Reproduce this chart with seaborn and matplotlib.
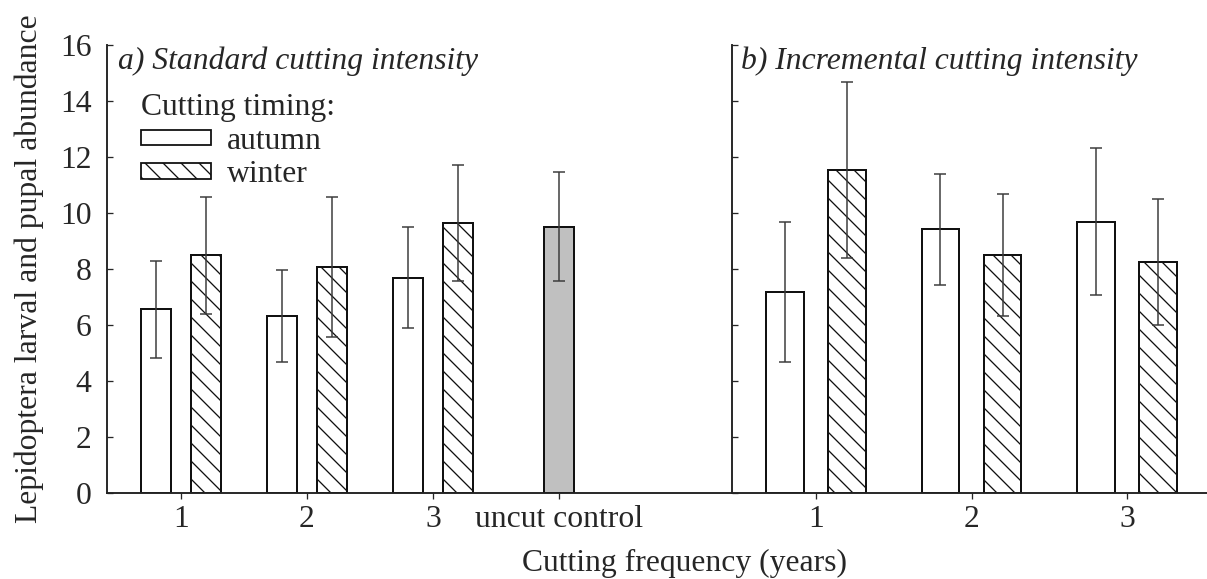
import pandas as pd
import matplotlib.pyplot as plt
import seaborn as sns
from matplotlib.patches import Patch
from matplotlib.transforms import blended_transform_factory

# Datos
cats_a = ["1", "2", "3", "uncut control"]
cats_b = ["1", "2", "3"]
freqs = ["1", "2", "3"]
timing = ["autumn", "winter"]

autumn_a = [6.57, 6.33, 7.70]
autumn_a_err = [1.73, 1.63, 1.80]
winter_a = [8.49, 8.08, 9.65]
winter_a_err = [2.09, 2.50, 2.07]
control = [9.52]
control_err = [1.94]

autumn_b = [7.20, 9.42, 9.69]
autumn_b_err = [2.50, 1.98, 2.63]
winter_b = [11.55, 8.51, 8.25]
winter_b_err = [3.14, 2.17, 2.24]

DPI = 108


def pt(px):
    # pixeles -> puntos
    return px * 72 / DPI


sns.set_style("ticks")
plt.rcParams["font.family"] = ["Liberation Serif", "DejaVu Serif"]
plt.rcParams["hatch.linewidth"] = pt(1.3)
plt.rcParams["axes.linewidth"] = pt(1.9)

FS = pt(31.6)
EDGE = "#111111"
ERR = dict(fmt="none", ecolor="#3a3a3a", elinewidth=pt(1.5),
           capsize=pt(6.5), capthick=pt(1.5), zorder=5)


def tabla(autumn, winter):
    return pd.DataFrame({
        "freq": freqs * 2,
        "timing": ["autumn"] * 3 + ["winter"] * 3,
        "abund": autumn + winter,
    })


def panel(ax, df, order, errs):
    sns.barplot(data=df, x="freq", y="abund", hue="timing", order=order,
                hue_order=timing, width=0.8, gap=0.4, errorbar=None,
                palette={"autumn": "white", "winter": "white"},
                edgecolor=EDGE, linewidth=pt(2), legend=False, ax=ax)
    for cont, t in zip(ax.containers, timing):
        xs, ys = [], []
        for p in cont:
            if t == "winter":
                p.set_hatch("\\\\")
            xs.append(p.get_x() + p.get_width() / 2)
            ys.append(p.get_height())
        ax.errorbar(xs, ys, yerr=errs[t], **ERR)


fig = plt.figure(figsize=(1207 / DPI, 579 / DPI), dpi=DPI)
ax_a = fig.add_axes([107 / 1207, 1 - 493.3 / 579, 625 / 1207, 448.3 / 579])
ax_b = fig.add_axes([732 / 1207, 1 - 493.3 / 579, 475 / 1207, 448.3 / 579])

# Panel a
panel(ax_a, tabla(autumn_a, winter_a), cats_a,
      {"autumn": autumn_a_err, "winter": winter_a_err})
df_c = pd.DataFrame({"freq": ["uncut control"], "abund": control})
sns.barplot(data=df_c, x="freq", y="abund", order=cats_a, width=0.24,
            color="#c0c0c0", saturation=1, edgecolor=EDGE, linewidth=pt(2),
            errorbar=None, ax=ax_a)
pc = ax_a.containers[-1][0]
ax_a.errorbar([pc.get_x() + pc.get_width() / 2], [pc.get_height()],
              yerr=control_err, **ERR)

# Panel b
panel(ax_b, tabla(autumn_b, winter_b), cats_b,
      {"autumn": autumn_b_err, "winter": winter_b_err})

for ax in (ax_a, ax_b):
    ax.set_ylim(0, 16)
    ax.set_yticks(range(0, 17, 2))
    ax.set_xlabel("")
    ax.set_ylabel("")
    sns.despine(ax=ax)
    ax.tick_params(axis="y", direction="in", length=pt(6), width=pt(1.3),
                   labelsize=FS, pad=pt(15.5))
    ax.tick_params(axis="x", direction="out", length=pt(6), width=pt(1.3),
                   labelsize=FS, pad=pt(5.5))
    for s in ("left", "bottom"):
        ax.spines[s].set_color("#222222")

ax_a.set_xlim(-0.587, 4.373)
ax_b.set_xlim(-0.540, 2.514)
ax_b.tick_params(axis="y", labelleft=False)

ax_a.set_ylabel("Lepidoptera larval and pupal abundance", fontsize=FS,
                labelpad=pt(16))

tr_a = blended_transform_factory(ax_a.transAxes, ax_a.transData)
tr_b = blended_transform_factory(ax_b.transAxes, ax_b.transData)
ax_a.text(0.0176, 15.15, "a) Standard cutting intensity", style="italic",
          fontsize=FS, transform=tr_a, va="baseline", ha="left")
ax_b.text(0.019, 15.15, "b) Incremental cutting intensity", style="italic",
          fontsize=FS, transform=tr_b, va="baseline", ha="left")

handles = [Patch(facecolor="white", edgecolor=EDGE, linewidth=pt(1.8)),
           Patch(facecolor="white", edgecolor=EDGE, linewidth=pt(1.8),
                 hatch="\\\\")]
leg = ax_a.legend(handles, timing, title="Cutting timing:", loc="upper left",
                  bbox_to_anchor=(0.055, 0.892), frameon=False, fontsize=FS,
                  title_fontsize=FS, handlelength=2.2, handleheight=0.38,
                  handletextpad=0.5, labelspacing=0.14, borderpad=0,
                  borderaxespad=0, alignment="left")

fig.text(685 / 1207, 1 - 563 / 579, "Cutting frequency (years)",
         fontsize=FS, ha="center", va="center")

fig.savefig("out.png", dpi=DPI)
